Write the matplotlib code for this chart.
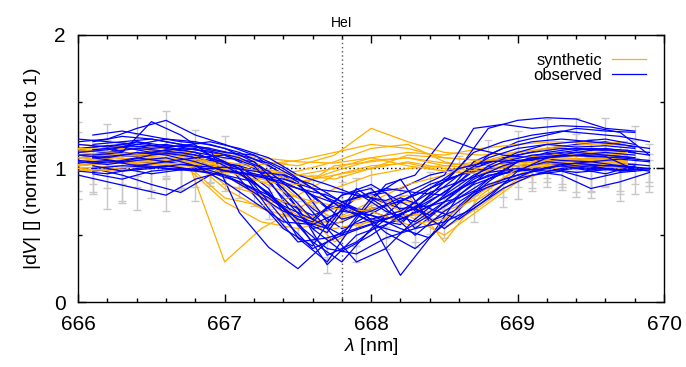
import numpy as np
import matplotlib
matplotlib.use("Agg")
import matplotlib.pyplot as plt
from matplotlib.ticker import MultipleLocator

plt.rcParams['font.family'] = ['Liberation Sans', 'DejaVu Sans']
plt.rcParams['mathtext.fontset'] = 'custom'
plt.rcParams['mathtext.rm'] = 'Liberation Sans'
plt.rcParams['mathtext.it'] = 'Liberation Sans:italic'

# wavelength grids (nm)
grid_a = [666.0, 666.2, 666.4, 666.6, 666.8, 667.0, 667.2, 667.4, 667.6, 667.8,
          668.0, 668.2, 668.4, 668.6, 668.8, 669.0, 669.2, 669.4, 669.6, 669.8]
grid_b = [666.1, 666.3, 666.5, 666.7, 666.9, 667.1, 667.3, 667.5, 667.7, 667.9,
          668.1, 668.3, 668.5, 668.7, 668.9, 669.1, 669.3, 669.5, 669.7, 669.9]
grid_syn = [666.0, 666.25, 666.5, 666.75, 667.0, 667.25, 667.5, 667.75,
            668.0, 668.25, 668.5, 668.75, 669.0, 669.25, 669.5, 669.75]

# observed |dV| profiles (normalized)
obs_01 = [1.15, 1.17, 1.16, 1.18, 1.14, 1.10, 1.00, 0.85, 0.55, 0.60, 0.70, 0.75, 0.85, 0.95, 1.05, 1.10, 1.15, 1.18, 1.20, 1.16]
obs_02 = [1.05, 1.06, 1.04, 1.07, 1.05, 1.02, 0.95, 0.70, 0.35, 0.45, 0.62, 0.70, 0.82, 0.98, 1.04, 1.06, 1.05, 1.08, 1.04, 1.02]
obs_03 = [1.20, 1.22, 1.30, 1.36, 1.25, 1.18, 1.10, 0.95, 0.80, 0.72, 0.68, 0.60, 0.75, 0.90, 1.10, 1.20, 1.25, 1.30, 1.28, 1.27]
obs_04 = [0.98, 1.00, 0.96, 0.99, 1.02, 1.00, 0.92, 0.60, 0.28, 0.50, 0.58, 0.66, 0.78, 0.90, 0.98, 1.00, 1.02, 0.99, 1.01, 0.98]
obs_05 = [1.10, 1.12, 1.20, 1.15, 1.12, 1.08, 1.05, 0.90, 0.70, 0.55, 0.62, 0.58, 0.80, 1.00, 1.30, 1.36, 1.38, 1.37, 1.30, 1.28]
obs_06 = [1.00, 0.95, 0.88, 0.82, 0.95, 1.00, 0.98, 0.88, 0.70, 0.78, 0.82, 0.55, 0.72, 0.88, 0.96, 1.00, 1.02, 1.00, 0.99, 1.00]
obs_07 = [1.08, 1.10, 1.09, 1.12, 1.15, 1.05, 0.80, 0.55, 0.42, 0.75, 0.82, 0.85, 0.95, 1.00, 1.06, 1.08, 1.10, 1.12, 1.15, 1.12]
obs_08 = [1.12, 1.15, 1.10, 1.14, 1.08, 0.95, 0.85, 0.75, 0.65, 0.72, 0.60, 0.20, 0.48, 0.80, 0.98, 1.05, 1.10, 1.12, 1.10, 1.08]
obs_09 = [1.18, 1.20, 1.22, 1.18, 1.15, 0.67, 0.41, 0.25, 0.45, 0.60, 0.72, 0.80, 0.90, 1.00, 1.08, 1.12, 1.15, 1.14, 1.13, 1.10]
obs_10 = [1.02, 1.05, 1.03, 1.00, 0.98, 0.95, 0.90, 0.70, 0.45, 0.30, 0.55, 0.75, 0.88, 0.95, 1.00, 1.02, 1.04, 1.02, 1.00, 1.01]
obs_11 = [1.25, 1.28, 1.24, 1.20, 1.18, 1.12, 1.02, 0.90, 0.60, 0.78, 0.85, 0.82, 0.80, 1.05, 1.15, 1.20, 1.22, 1.20, 1.18, 1.15]
obs_12 = [0.95, 0.90, 0.85, 0.80, 0.92, 0.98, 0.96, 0.92, 0.85, 0.82, 0.78, 0.70, 0.72, 0.85, 0.95, 0.98, 1.00, 0.97, 0.99, 0.98]
obs_13 = [1.08, 1.10, 1.12, 1.10, 1.06, 1.02, 0.85, 0.48, 0.30, 0.62, 0.88, 0.95, 1.23, 1.15, 1.10, 1.08, 1.06, 1.05, 1.07, 1.05]
obs_14 = [1.14, 1.12, 1.15, 1.13, 1.10, 1.05, 0.88, 0.62, 0.40, 0.50, 0.78, 0.92, 0.60, 0.70, 0.90, 1.05, 1.12, 1.15, 1.14, 1.12]
obs_15 = [1.00, 1.02, 1.01, 0.99, 1.00, 0.97, 0.92, 0.85, 0.80, 0.70, 0.52, 0.40, 0.58, 0.80, 0.92, 0.98, 0.95, 0.85, 0.90, 0.97]
obs_16 = [1.06, 1.04, 1.08, 1.05, 1.02, 0.90, 0.75, 0.60, 0.58, 0.68, 0.65, 0.55, 0.48, 0.72, 0.92, 1.00, 1.05, 1.03, 1.02, 1.03]
obs_17 = [1.16, 1.18, 1.15, 1.17, 1.20, 1.15, 1.08, 0.95, 0.88, 0.80, 0.76, 0.85, 0.95, 1.30, 1.33, 1.30, 1.32, 1.31, 1.27, 1.10]
obs_18 = [0.98, 0.96, 1.00, 1.02, 0.99, 1.01, 0.98, 0.95, 0.88, 0.75, 0.62, 0.68, 0.82, 0.90, 0.97, 1.00, 0.98, 1.00, 0.96, 1.02]
obs_19 = [1.10, 1.12, 1.35, 1.25, 1.10, 1.00, 0.80, 0.62, 0.52, 0.82, 0.68, 0.60, 0.75, 0.92, 1.02, 1.08, 1.10, 1.09, 1.08, 1.06]
obs_20 = [1.04, 1.06, 1.02, 1.05, 1.08, 1.10, 1.02, 0.78, 0.55, 0.38, 0.50, 0.65, 0.85, 1.00, 1.05, 1.06, 1.08, 1.10, 1.09, 0.99]
obs_21 = [1.22, 1.20, 1.18, 1.22, 1.20, 1.15, 1.05, 0.85, 0.62, 0.50, 0.58, 0.52, 0.65, 0.85, 1.02, 1.12, 1.18, 1.20, 1.22, 1.18]
obs_22 = [1.02, 0.98, 1.00, 1.03, 1.01, 0.96, 0.82, 0.58, 0.40, 0.36, 0.48, 0.55, 0.60, 0.70, 0.85, 0.95, 1.00, 1.02, 0.98, 1.00]
obs_23 = [1.12, 1.14, 1.18, 1.16, 1.12, 1.02, 0.90, 0.72, 0.62, 0.80, 0.85, 0.62, 0.72, 0.78, 0.92, 1.05, 1.08, 1.10, 1.12, 1.10]
obs_24 = [1.08, 1.05, 1.10, 1.12, 1.08, 1.00, 0.70, 0.45, 0.48, 0.55, 0.62, 0.70, 0.55, 0.72, 0.88, 0.98, 1.03, 1.05, 1.02, 1.00]
obs_25 = [1.18, 1.16, 1.20, 1.17, 1.16, 1.12, 1.10, 1.00, 0.85, 0.70, 0.60, 0.65, 0.78, 0.95, 1.08, 1.15, 1.18, 1.16, 1.17, 1.15]
obs_26 = [0.96, 0.92, 0.98, 1.00, 0.97, 0.90, 0.78, 0.62, 0.55, 0.85, 0.70, 0.50, 0.68, 0.82, 0.90, 0.95, 0.98, 0.92, 0.97, 0.99]
obs_27 = [1.10, 1.08, 1.12, 1.10, 1.05, 0.98, 0.95, 0.90, 0.80, 0.62, 0.68, 0.78, 0.70, 0.62, 0.78, 0.98, 1.08, 1.12, 1.10, 1.08]
obs_28 = [1.14, 1.16, 1.12, 1.15, 1.13, 1.08, 0.98, 0.80, 0.55, 0.30, 0.40, 0.62, 0.80, 0.95, 1.05, 1.10, 1.12, 1.15, 1.14, 1.12]
obs_29 = [1.05, 1.03, 1.06, 1.08, 1.02, 0.95, 0.82, 0.68, 0.60, 0.80, 0.88, 0.75, 0.65, 0.78, 0.88, 0.95, 1.00, 1.04, 1.02, 1.01]
obs_30 = [1.20, 1.24, 1.22, 1.18, 1.15, 1.10, 1.04, 0.92, 0.78, 0.68, 0.62, 0.70, 0.90, 1.12, 1.20, 1.25, 1.28, 1.26, 1.24, 1.20]

# which grid each observed profile was sampled on
obs_profiles = [
    (grid_a, obs_01), (grid_b, obs_02), (grid_a, obs_03), (grid_b, obs_04),
    (grid_a, obs_05), (grid_b, obs_06), (grid_a, obs_07), (grid_a, obs_08),
    (grid_b, obs_09), (grid_a, obs_10), (grid_b, obs_11), (grid_a, obs_12),
    (grid_b, obs_13), (grid_a, obs_14), (grid_b, obs_15), (grid_a, obs_16),
    (grid_b, obs_17), (grid_a, obs_18), (grid_b, obs_19), (grid_a, obs_20),
    (grid_a, obs_21), (grid_b, obs_22), (grid_a, obs_23), (grid_b, obs_24),
    (grid_a, obs_25), (grid_b, obs_26), (grid_a, obs_27), (grid_b, obs_28),
    (grid_a, obs_29), (grid_b, obs_30),
]

# error bars on a few observed profiles
err_01 = [0.20, 0.16, 0.22, 0.25, 0.15, 0.14, 0.12, 0.10, 0.09, 0.10, 0.12, 0.10, 0.12, 0.14, 0.16, 0.18, 0.22, 0.20, 0.18, 0.16]
err_04 = [0.16, 0.12, 0.18, 0.14, 0.12, 0.10, 0.10, 0.12, 0.06, 0.08, 0.10, 0.09, 0.08, 0.10, 0.09, 0.10, 0.14, 0.16, 0.18, 0.08]
err_12 = [0.18, 0.20, 0.16, 0.12, 0.16, 0.10, 0.14, 0.12, 0.10, 0.12, 0.08, 0.10, 0.09, 0.12, 0.10, 0.12, 0.10, 0.18, 0.12, 0.10]
err_22 = [0.14, 0.22, 0.16, 0.18, 0.12, 0.10, 0.12, 0.10, 0.08, 0.06, 0.08, 0.10, 0.12, 0.10, 0.14, 0.12, 0.16, 0.20, 0.22, 0.18]
err_26 = [0.15, 0.18, 0.14, 0.16, 0.10, 0.12, 0.16, 0.14, 0.10, 0.08, 0.06, 0.09, 0.10, 0.12, 0.11, 0.10, 0.12, 0.14, 0.16, 0.12]
err_29 = [0.22, 0.18, 0.20, 0.14, 0.16, 0.12, 0.10, 0.12, 0.14, 0.10, 0.12, 0.10, 0.14, 0.12, 0.10, 0.18, 0.14, 0.22, 0.16, 0.20]
err_sets = [(grid_a, obs_01, err_01), (grid_b, obs_04, err_04),
            (grid_a, obs_12, err_12), (grid_b, obs_22, err_22),
            (grid_b, obs_26, err_26), (grid_a, obs_29, err_29)]

# synthetic profiles
syn_01 = [1.05, 1.08, 1.07, 1.05, 0.30, 0.55, 0.70, 0.85, 0.95, 1.00, 1.02, 1.05, 1.06, 1.08, 1.07, 1.06]
syn_02 = [1.10, 1.12, 1.11, 1.10, 1.08, 1.05, 1.02, 1.10, 1.30, 1.20, 1.12, 1.10, 1.12, 1.15, 1.14, 1.13]
syn_03 = [1.00, 1.02, 1.03, 1.00, 0.75, 0.60, 0.55, 0.62, 0.70, 0.75, 0.62, 0.85, 0.98, 1.02, 1.03, 1.02]
syn_04 = [1.15, 1.14, 1.16, 1.12, 1.10, 1.08, 1.05, 1.04, 1.08, 1.12, 1.10, 1.15, 1.18, 1.20, 1.19, 1.17]
syn_05 = [1.02, 1.05, 1.04, 1.03, 0.95, 0.80, 0.65, 0.58, 0.72, 0.80, 0.45, 0.80, 1.00, 1.05, 1.06, 1.04]
syn_06 = [1.08, 1.06, 1.07, 1.05, 1.00, 0.92, 0.85, 1.02, 1.05, 1.08, 1.04, 1.02, 1.04, 1.06, 1.08, 1.07]
syn_07 = [1.12, 1.10, 1.13, 1.08, 0.85, 0.70, 0.62, 0.55, 0.60, 0.65, 0.68, 0.78, 0.95, 1.08, 1.10, 1.09]
syn_08 = [0.98, 1.00, 1.02, 0.99, 0.97, 0.95, 0.98, 1.05, 1.15, 1.18, 1.05, 1.00, 1.02, 1.03, 1.05, 1.04]
syn_09 = [1.06, 1.08, 1.05, 1.02, 0.78, 0.72, 0.80, 0.95, 1.02, 1.04, 0.98, 0.96, 1.05, 1.10, 1.12, 1.10]
syn_10 = [1.18, 1.16, 1.15, 1.17, 1.12, 1.00, 0.78, 0.62, 0.75, 0.88, 0.95, 1.05, 1.12, 1.16, 1.18, 1.20]
syn_11 = [1.03, 1.04, 1.06, 1.05, 1.02, 0.98, 0.90, 0.95, 1.00, 1.10, 1.08, 1.06, 1.05, 1.04, 1.06, 1.05]
syn_12 = [1.10, 1.09, 1.12, 1.10, 0.88, 0.80, 0.72, 0.45, 0.62, 0.70, 0.55, 0.72, 0.92, 1.05, 1.08, 1.07]
syn_13 = [1.08, 1.10, 1.09, 1.07, 1.05, 1.00, 0.95, 0.92, 1.00, 1.05, 1.00, 0.98, 1.02, 1.05, 1.07, 1.06]
syn_14 = [1.12, 1.15, 1.14, 1.12, 1.00, 0.90, 0.88, 0.98, 1.06, 1.08, 1.02, 1.00, 1.02, 1.10, 1.12, 1.14]
syn_15 = [1.00, 0.98, 1.01, 1.02, 0.98, 0.90, 0.78, 0.72, 0.80, 0.65, 0.50, 0.70, 0.90, 1.00, 1.02, 1.00]
syn_16 = [1.05, 1.06, 1.08, 1.06, 1.04, 1.03, 1.06, 1.12, 1.18, 1.15, 1.08, 1.06, 1.08, 1.10, 1.12, 1.10]
syn_17 = [1.14, 1.12, 1.10, 1.12, 0.95, 0.78, 0.60, 0.70, 0.68, 0.58, 0.62, 0.82, 1.00, 1.08, 1.10, 1.12]
syn_18 = [1.02, 1.04, 1.03, 1.04, 1.00, 0.98, 0.95, 1.00, 1.08, 1.02, 0.98, 0.96, 1.00, 1.02, 1.04, 1.03]
syn_profiles = [syn_01, syn_02, syn_03, syn_04, syn_05, syn_06,
                syn_07, syn_08, syn_09, syn_10, syn_11, syn_12,
                syn_13, syn_14, syn_15, syn_16, syn_17, syn_18]

he_line = 667.8

fig = plt.figure(figsize=(6.86, 3.67), dpi=100)
ax = fig.add_axes([0.114, 0.177, 0.854, 0.728])

# gray error bars behind everything
for gx, gy, ge in err_sets:
    ax.errorbar(gx, gy, yerr=ge, fmt='none', ecolor='#c8c8c8', elinewidth=1.0,
                capsize=3, capthick=1.0, zorder=1)

ax.axhline(1.0, color='black', ls=(0, (1, 2)), lw=1.0, zorder=2)
ax.axvline(he_line, color='#555555', ls=(0, (1, 2)), lw=1.0, zorder=2)

# interleave synthetic and observed lines
n = max(len(syn_profiles), len(obs_profiles))
for i in range(n):
    if i < len(syn_profiles):
        ax.plot(grid_syn, syn_profiles[i], color='#ffb000', lw=0.9, zorder=3,
                label='synthetic' if i == 0 else None)
    if i < len(obs_profiles):
        gx, gy = obs_profiles[i]
        ax.plot(gx, gy, color='#0000ff', lw=0.9, zorder=3,
                label='observed' if i == 0 else None)

ax.set_xlim(666, 670)
ax.set_ylim(0, 2)
ax.xaxis.set_major_locator(MultipleLocator(1))
ax.xaxis.set_minor_locator(MultipleLocator(0.2))
ax.yaxis.set_major_locator(MultipleLocator(1))
ax.yaxis.set_minor_locator(MultipleLocator(0.5))
ax.tick_params(which='both', direction='in', top=True, right=True, labelsize=15)
ax.tick_params(which='major', length=6, width=1)
ax.tick_params(which='minor', length=3, width=1)
ax.tick_params(axis='x', pad=9)
ax.tick_params(axis='y', pad=9)
for s in ax.spines.values():
    s.set_linewidth(1.0)

ax.set_xlabel(r'$\lambda$ [nm]', fontsize=14, labelpad=2)
ax.set_ylabel(r'|d$V$| [] (normalized to 1)', fontsize=14, labelpad=8)
ax.text(he_line, 2.04, 'HeI', ha='center', va='bottom', fontsize=10)

leg = ax.legend(loc='upper right', frameon=False, markerfirst=False, fontsize=12,
                handlelength=2.0, handletextpad=0.6, labelspacing=0.0,
                borderaxespad=0.7)

fig.savefig('out.png', dpi=100)
